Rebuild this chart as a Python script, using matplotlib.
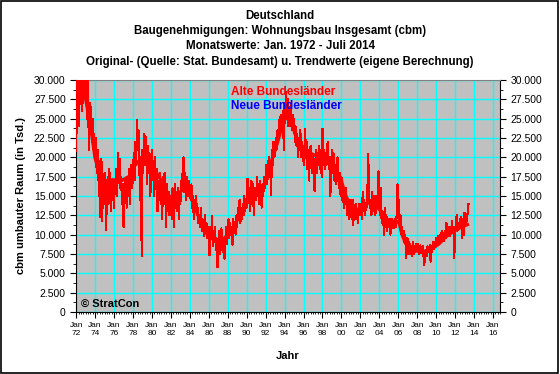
import numpy as np
import matplotlib
matplotlib.use("Agg")
import matplotlib.pyplot as plt
from matplotlib.ticker import FuncFormatter, MultipleLocator
from matplotlib.patches import Rectangle

plt.rcParams['font.family'] = ['Liberation Sans', 'DejaVu Sans']

# Monatswerte (Tsd. cbm), Jan 1972 ...
raw_k = [
  20.8, 27.0, 31.0, 24.0, 32.0, 29.0, 31.0, 26.0, 30.5, 27.0, 31.0, 28.0,  # 1972
  29.0, 31.0, 25.0, 30.5, 21.0, 27.0, 24.0, 26.5, 22.0, 25.0, 21.0, 23.0,  # 1973
  20.0, 22.5, 18.0, 21.0, 17.0, 19.5, 12.3, 17.0, 19.8, 11.8, 17.0, 16.0,  # 1974
  18.0, 15.0, 10.6, 16.0, 17.5, 14.0, 18.5, 16.0, 13.0, 17.0, 14.5, 17.0,  # 1975
  13.5, 17.0, 16.0, 18.5, 15.0, 20.5, 17.0, 19.8, 16.0, 17.5, 14.0, 16.5,  # 1976
  11.0, 15.0, 17.0, 16.5, 13.5, 17.5, 15.0, 18.5, 14.0, 17.0, 19.0, 16.0,  # 1977
  18.0, 20.5, 17.0, 22.0, 19.0, 24.8, 21.0, 23.5, 19.0, 14.5, 20.0, 7.2,   # 1978
  21.0, 18.0, 23.0, 19.0, 22.7, 20.0, 16.5, 21.5, 18.0, 20.5, 15.0, 19.0,  # 1979
  21.0, 17.0, 19.5, 15.0, 20.0, 16.0, 18.5, 13.0, 17.0, 15.0, 18.0, 14.0,  # 1980
  16.5, 12.0, 17.5, 14.0, 18.0, 15.0, 11.0, 16.5, 13.0, 15.5, 12.5, 14.5,  # 1981
  15.0, 12.0, 16.0, 14.5, 11.0, 16.5, 13.5, 15.5, 13.0, 16.0, 12.0, 15.5,  # 1982
  14.0, 17.0, 16.0, 18.5, 20.0, 15.5, 18.0, 14.5, 17.5, 16.0, 15.0, 17.0,  # 1983
  16.0, 14.5, 16.5, 13.5, 15.0, 12.0, 14.5, 13.0, 15.0, 12.5, 13.5, 11.5,  # 1984
  12.5, 11.0, 13.5, 10.5, 12.0, 11.5, 9.8, 12.5, 10.5, 11.5, 9.5, 11.0,    # 1985
  10.5, 7.3, 11.0, 9.5, 12.4, 8.5, 10.5, 9.0, 11.0, 8.0, 9.5, 5.8,         # 1986
  8.5, 10.5, 7.5, 9.5, 10.8, 8.0, 9.5, 7.0, 6.9, 9.0, 11.0, 8.8,           # 1987
  10.5, 12.0, 9.5, 11.5, 10.0, 11.0, 8.7, 12.0, 10.5, 11.5, 10.0, 12.5,    # 1988
  11.0, 13.5, 12.0, 14.5, 11.5, 13.0, 12.0, 14.0, 12.5, 15.0, 13.0, 14.0,  # 1989
  13.5, 17.2, 14.5, 16.0, 13.0, 15.5, 17.0, 14.0, 16.5, 12.5, 15.0, 16.0,  # 1990
  14.5, 17.5, 15.0, 16.5, 14.0, 17.0, 15.5, 13.5, 16.5, 15.0, 17.5, 16.0,  # 1991
  17.0, 19.0, 16.5, 18.5, 20.0, 17.5, 19.5, 15.1, 21.0, 19.0, 22.0, 20.0,  # 1992
  20.5, 22.5, 21.0, 23.5, 22.0, 24.8, 23.0, 25.5, 24.0, 24.0, 26.0, 21.0,  # 1993
  27.0, 24.5, 28.5, 26.0, 27.5, 24.0, 26.5, 25.0, 27.0, 23.5, 25.5, 24.0,  # 1994
  25.0, 22.0, 24.0, 21.5, 23.0, 20.0, 22.5, 21.0, 23.5, 20.0, 22.0, 19.5,  # 1995
  21.5, 19.0, 23.7, 20.5, 22.0, 18.5, 21.0, 17.0, 20.0, 21.5, 19.0, 18.0,  # 1996
  20.0, 18.8, 15.6, 19.5, 21.0, 18.0, 20.5, 19.0, 21.5, 18.5, 20.0, 17.5,  # 1997
  23.7, 19.0, 21.0, 18.5, 20.5, 19.0, 21.5, 22.0, 18.5, 20.0, 15.0, 19.0,  # 1998
  21.0, 18.0, 20.5, 17.0, 19.0, 16.5, 18.5, 20.0, 17.5, 16.0, 18.0, 15.0,  # 1999
  17.5, 14.5, 16.0, 13.5, 15.5, 14.0, 16.0, 12.5, 14.5, 13.0, 12.0, 14.5,  # 2000
  13.5, 12.0, 14.5, 11.2, 13.5, 12.5, 14.0, 12.0, 13.0, 11.5, 14.0, 13.0,  # 2001
  12.5, 14.0, 12.0, 15.5, 13.0, 14.5, 12.5, 14.0, 13.5, 16.0, 20.4, 15.0,  # 2002
  13.5, 14.5, 12.5, 15.5, 14.0, 13.0, 15.0, 12.5, 14.0, 13.5, 15.5, 18.2,  # 2003
  14.0, 12.5, 16.0, 11.5, 13.0, 12.0, 10.0, 13.5, 11.0, 12.5, 10.5, 12.0,  # 2004
  11.0, 12.0, 10.0, 11.5, 12.0, 11.0, 10.8, 11.5, 12.0, 11.0, 12.5, 16.5,  # 2005
  15.5, 12.0, 11.0, 12.5, 10.0, 11.0, 9.5, 10.5, 9.0, 10.0, 7.0, 8.5,      # 2006
  9.5, 7.5, 9.0, 8.0, 8.5, 7.2, 8.0, 9.0, 7.5, 8.3, 7.8, 8.8,              # 2007
  8.0, 8.8, 7.5, 8.2, 8.6, 7.6, 8.0, 8.5, 7.2, 6.1, 7.5, 8.0,              # 2008
  7.2, 8.5, 7.8, 8.0, 8.6, 6.5, 8.5, 7.8, 9.0, 8.2, 9.0, 8.5,              # 2009
  9.5, 8.6, 9.8, 9.0, 9.6, 10.0, 9.2, 10.5, 9.5, 10.2, 9.2, 10.5,          # 2010
  9.5, 11.5, 10.0, 11.0, 10.5, 9.8, 11.0, 10.2, 11.8, 10.5, 11.0, 7.0,     # 2011
  10.5, 11.0, 12.5, 10.5, 11.5, 10.8, 12.0, 11.0, 12.3, 9.5, 11.5, 10.0,   # 2012
  12.8, 11.5, 12.5, 11.8, 13.0, 14.0,                                      # 2013
]

# Trendwerte (Tsd. cbm)
trend_years = [1972.0, 1972.6, 1973.0, 1973.3, 1973.7, 1974.0, 1974.4, 1974.7, 1975.1, 1975.8,
               1976.8, 1977.7, 1978.0, 1978.6, 1979.1, 1979.6, 1980.1, 1980.7, 1981.4, 1981.9,
               1982.4, 1982.9, 1983.4, 1983.7, 1984.25, 1984.8, 1985.3, 1985.8, 1986.3, 1986.9,
               1987.6, 1988.1, 1988.6, 1989.3, 1990.0, 1990.7, 1991.4, 1991.9, 1992.4, 1993.2,
               1993.7, 1994.3, 1994.7, 1995.2, 1995.9, 1996.6, 1997.3, 1998.0, 1998.7, 1999.4,
               1999.9, 2000.4, 2000.9, 2001.5, 2002.0, 2002.5, 2003.0, 2003.5, 2004.1, 2004.6,
               2005.1, 2005.7, 2006.1, 2006.4, 2006.8, 2007.3, 2007.8, 2008.5, 2009.0, 2009.6,
               2010.3, 2011.0, 2011.7, 2012.4, 2012.9, 2013.3]
trend_k = [28.7, 28.5, 27.6, 25.5, 22.5, 19.9, 18.2, 16.7, 16.5, 17.1,
           17.0, 17.6, 18.7, 19.5, 19.7, 19.3, 18.7, 17.6, 16.0, 14.8,
           14.6, 15.4, 16.0, 15.9, 14.4, 12.7, 11.2, 10.1, 9.5, 9.3,
           9.5, 10.1, 11.0, 12.5, 14.2, 15.0, 15.5, 16.5, 18.7, 21.7,
           23.9, 25.7, 24.6, 22.7, 21.4, 20.6, 20.2, 19.7, 19.3, 18.4,
           17.4, 15.2, 13.9, 13.3, 13.3, 13.7, 14.3, 14.0, 13.1, 12.0,
           11.5, 11.8, 11.5, 10.0, 8.8, 8.1, 7.9, 7.8, 7.9, 8.2,
           8.8, 9.7, 10.3, 10.8, 11.1, 11.3]

tick_years = list(range(1972, 2017, 2))

raw = np.array(raw_k) * 1000
x_raw = 1972 + np.arange(len(raw)) / 12.0
trend = np.array(trend_k) * 1000

fig = plt.figure(figsize=(5.6, 3.74), dpi=100)
fig.patches.append(Rectangle((0.002, 0.004), 0.995, 0.993, transform=fig.transFigure,
                             fill=False, edgecolor='black', linewidth=1.2))
ax = fig.add_axes([0.136, 0.166, 0.757, 0.62])
ax.set_facecolor('#C0C0C0')

ax.plot(x_raw, raw, color='red', linewidth=0.8, antialiased=False, zorder=3)
ax.plot(trend_years, trend, color='red', linewidth=2.4, zorder=4)

ax.set_xlim(1972, 2016.75)
ax.set_ylim(0, 30000)
ax.set_xticks(tick_years)
ax.set_xticklabels([f"Jan\n{y % 100:02d}" for y in tick_years], fontsize=6)
ax.xaxis.set_minor_locator(MultipleLocator(0.25))
ax.yaxis.set_major_locator(MultipleLocator(2500))
ax.yaxis.set_minor_locator(MultipleLocator(1250))
ax.yaxis.set_major_formatter(FuncFormatter(lambda v, p: f"{int(v):,}".replace(",", ".")))
ax.tick_params(axis='y', which='both', left=True, right=True, labelleft=True,
               labelright=True, labelsize=7.5, direction='out')
ax.tick_params(axis='y', which='major', length=4)
ax.tick_params(axis='y', which='minor', length=2)
ax.tick_params(axis='x', which='major', length=4, labelsize=6, pad=3)
ax.tick_params(axis='x', which='minor', length=1.5)

ax.grid(True, which='major', color='#00FFFF', linewidth=1.0, zorder=1)
ax.set_axisbelow(True)
ax.spines['top'].set_color('#808080')

ax.set_xlabel("Jahr", fontsize=8, fontweight='bold', labelpad=10)
ax.set_ylabel("cbm umbauter Raum (in Tsd.)", fontsize=8, fontweight='bold', labelpad=6)

fig.text(0.5, 0.958, "Deutschland", ha='center', va='center', fontsize=8.3, fontweight='bold')
fig.text(0.5, 0.916, "Baugenehmigungen: Wohnungsbau Insgesamt (cbm)", ha='center', va='center',
         fontsize=8.3, fontweight='bold')
fig.text(0.5, 0.876, "Monatswerte: Jan. 1972 - Juli 2014", ha='center', va='center',
         fontsize=8.3, fontweight='bold')
fig.text(0.5, 0.835, "Original- (Quelle: Stat. Bundesamt) u. Trendwerte (eigene Berechnung)",
         ha='center', va='center', fontsize=8.3, fontweight='bold')

ax.text(0.366, 0.948, "Alte Bundesländer", transform=ax.transAxes, color='red',
        fontsize=8.5, fontweight='bold', va='center', zorder=5)
ax.text(0.366, 0.888, "Neue Bundesländer", transform=ax.transAxes, color='blue',
        fontsize=8.5, fontweight='bold', va='center', zorder=5)
ax.text(0.012, 0.035, "© StratCon", transform=ax.transAxes, color='black',
        fontsize=8, fontweight='bold', va='center', zorder=5)

fig.savefig("out.png", dpi=100)
